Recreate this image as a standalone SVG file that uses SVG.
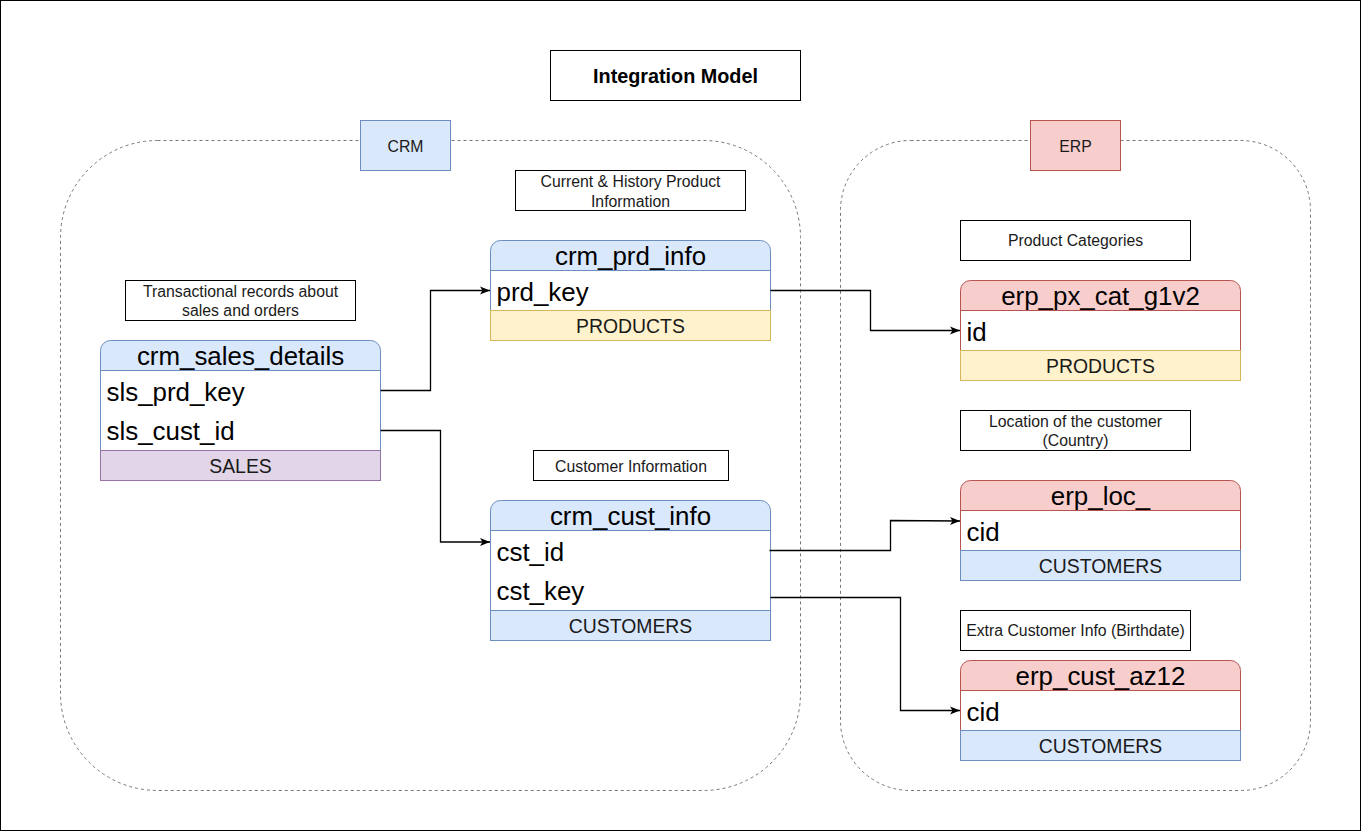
<svg xmlns="http://www.w3.org/2000/svg" width="1361" height="831" viewBox="0 0 1361 831">
<defs>
<marker id="arr" viewBox="0 0 10 10" refX="10" refY="5" markerWidth="10" markerHeight="10" markerUnits="userSpaceOnUse" orient="auto">
<path d="M0,1 L10,5 L0,9 L2.5,5 Z" fill="#000"/>
</marker>
<style>
text{font-family:"Liberation Sans",Arial,sans-serif;fill:#000}
.note{fill:#fff;stroke:#000;stroke-width:1}
.nt{font-size:15.8px;text-anchor:middle;fill:#1a1a1a}
.cont{fill:none;stroke:#777;stroke-width:1;stroke-dasharray:3 3}
.hd{font-size:25.9px;text-anchor:middle}
.rw{font-size:25.9px}
.ft{font-size:19.4px;text-anchor:middle;fill:#1a1a1a}
.bh{fill:#dae8fc;stroke:#6c8ebf}
.rh{fill:#f8cecc;stroke:#b85450}
.bb{fill:#fff;stroke:#6c8ebf}
.rb{fill:#fff;stroke:#b85450}
.yf{fill:#fff2cc;stroke:#d6b656}
.bf{fill:#dae8fc;stroke:#6c8ebf}
.pf{fill:#e1d5e7;stroke:#9673a6}
.conn path{fill:none;stroke:#000;stroke-width:1.3;marker-end:url(#arr)}
</style>
</defs>
<rect x="0.5" y="0.5" width="1360" height="830" fill="#fff" stroke="#000" stroke-width="1"/>

<g id="crm-container">
<rect class="cont" x="60.5" y="140.5" width="740" height="650" rx="97" ry="97"/>
</g>
<g id="erp-container">
<rect class="cont" x="840.5" y="140.5" width="470" height="650" rx="70" ry="70"/>
</g>

<g id="title">
<rect x="550.5" y="50.5" width="250" height="50" fill="#fff" stroke="#000"/>
<text x="675.5" y="83" font-size="19.8px" font-weight="bold" text-anchor="middle">Integration Model</text>
</g>

<g id="crm-label">
<rect x="360.5" y="120.5" width="90" height="50" fill="#dae8fc" stroke="#6c8ebf"/>
<text class="nt" x="405.5" y="151.5">CRM</text>
</g>
<g id="erp-label">
<rect x="1030.5" y="120.5" width="90" height="50" fill="#f8cecc" stroke="#b85450"/>
<text class="nt" x="1075.5" y="151.5">ERP</text>
</g>

<g id="note-sales">
<rect class="note" x="125.5" y="280.5" width="230" height="40"/>
<text class="nt" x="240.5" y="296.5">Transactional records about</text>
<text class="nt" x="240.5" y="316">sales and orders</text>
</g>
<g id="note-prd">
<rect class="note" x="515.5" y="170.5" width="230" height="40"/>
<text class="nt" x="630.5" y="187">Current &amp; History Product</text>
<text class="nt" x="630.5" y="206.5">Information</text>
</g>
<g id="note-cust">
<rect class="note" x="533.5" y="450.5" width="195" height="30"/>
<text class="nt" x="631" y="471.5">Customer Information</text>
</g>
<g id="note-cat">
<rect class="note" x="960.5" y="220.5" width="230" height="40"/>
<text class="nt" x="1075.5" y="246">Product Categories</text>
</g>
<g id="note-loc">
<rect class="note" x="960.5" y="410.5" width="230" height="40"/>
<text class="nt" x="1075.5" y="426.5">Location of the customer</text>
<text class="nt" x="1075.5" y="446">(Country)</text>
</g>
<g id="note-az12">
<rect class="note" x="960.5" y="610.5" width="230" height="40"/>
<text class="nt" x="1075.5" y="636">Extra Customer Info (Birthdate)</text>
</g>

<g id="crm_sales_details">
<path class="bh" d="M100.5,370.5 V350.5 A10,10 0 0 1 110.5,340.5 H370.5 A10,10 0 0 1 380.5,350.5 V370.5 Z"/>
<rect class="bb" x="100.5" y="370.5" width="280" height="80"/>
<rect class="pf" x="100.5" y="450.5" width="280" height="30"/>
<text class="hd" x="240.5" y="364.5">crm_sales_details</text>
<text class="rw" x="106.5" y="400.5">sls_prd_key</text>
<text class="rw" x="106.5" y="440">sls_cust_id</text>
<text class="ft" x="240.5" y="472.5">SALES</text>
</g>

<g id="crm_prd_info">
<path class="bh" d="M490.5,270.5 V250.5 A10,10 0 0 1 500.5,240.5 H760.5 A10,10 0 0 1 770.5,250.5 V270.5 Z"/>
<rect class="bb" x="490.5" y="270.5" width="280" height="40"/>
<rect class="yf" x="490.5" y="310.5" width="280" height="30"/>
<text class="hd" x="630.5" y="264.5">crm_prd_info</text>
<text class="rw" x="496.5" y="300.5">prd_key</text>
<text class="ft" x="630.5" y="332.5">PRODUCTS</text>
</g>

<g id="crm_cust_info">
<path class="bh" d="M490.5,530.5 V510.5 A10,10 0 0 1 500.5,500.5 H760.5 A10,10 0 0 1 770.5,510.5 V530.5 Z"/>
<rect class="bb" x="490.5" y="530.5" width="280" height="80"/>
<rect class="bf" x="490.5" y="610.5" width="280" height="30"/>
<text class="hd" x="630.5" y="524.5">crm_cust_info</text>
<text class="rw" x="496.5" y="560.5">cst_id</text>
<text class="rw" x="496.5" y="600">cst_key</text>
<text class="ft" x="630.5" y="632.5">CUSTOMERS</text>
</g>

<g id="erp_px_cat_g1v2">
<path class="rh" d="M960.5,310.5 V290.5 A10,10 0 0 1 970.5,280.5 H1230.5 A10,10 0 0 1 1240.5,290.5 V310.5 Z"/>
<rect class="rb" x="960.5" y="310.5" width="280" height="40"/>
<rect class="yf" x="960.5" y="350.5" width="280" height="30"/>
<text class="hd" x="1100.5" y="304.5">erp_px_cat_g1v2</text>
<text class="rw" x="966.5" y="340.5">id</text>
<text class="ft" x="1100.5" y="372.5">PRODUCTS</text>
</g>

<g id="erp_loc_">
<path class="rh" d="M960.5,510.5 V490.5 A10,10 0 0 1 970.5,480.5 H1230.5 A10,10 0 0 1 1240.5,490.5 V510.5 Z"/>
<rect class="rb" x="960.5" y="510.5" width="280" height="40"/>
<rect class="bf" x="960.5" y="550.5" width="280" height="30"/>
<text class="hd" x="1100.5" y="504.5">erp_loc_</text>
<text class="rw" x="966.5" y="540.5">cid</text>
<text class="ft" x="1100.5" y="572.5">CUSTOMERS</text>
</g>

<g id="erp_cust_az12">
<path class="rh" d="M960.5,690.5 V670.5 A10,10 0 0 1 970.5,660.5 H1230.5 A10,10 0 0 1 1240.5,670.5 V690.5 Z"/>
<rect class="rb" x="960.5" y="690.5" width="280" height="40"/>
<rect class="bf" x="960.5" y="730.5" width="280" height="30"/>
<text class="hd" x="1100.5" y="684.5">erp_cust_az12</text>
<text class="rw" x="966.5" y="720.5">cid</text>
<text class="ft" x="1100.5" y="752.5">CUSTOMERS</text>
</g>

<g id="connectors" class="conn">
<path d="M380.5,390.5 H430.5 V290.5 H490"/>
<path d="M380.5,430.5 H440.5 V542 H490"/>
<path d="M770.5,290.5 H870.5 V330.5 H960"/>
<path d="M769.5,550.5 H890.5 V520.5 L960,521"/>
<path d="M770.5,597.5 H900.5 V710.5 H960"/>
</g>
</svg>
